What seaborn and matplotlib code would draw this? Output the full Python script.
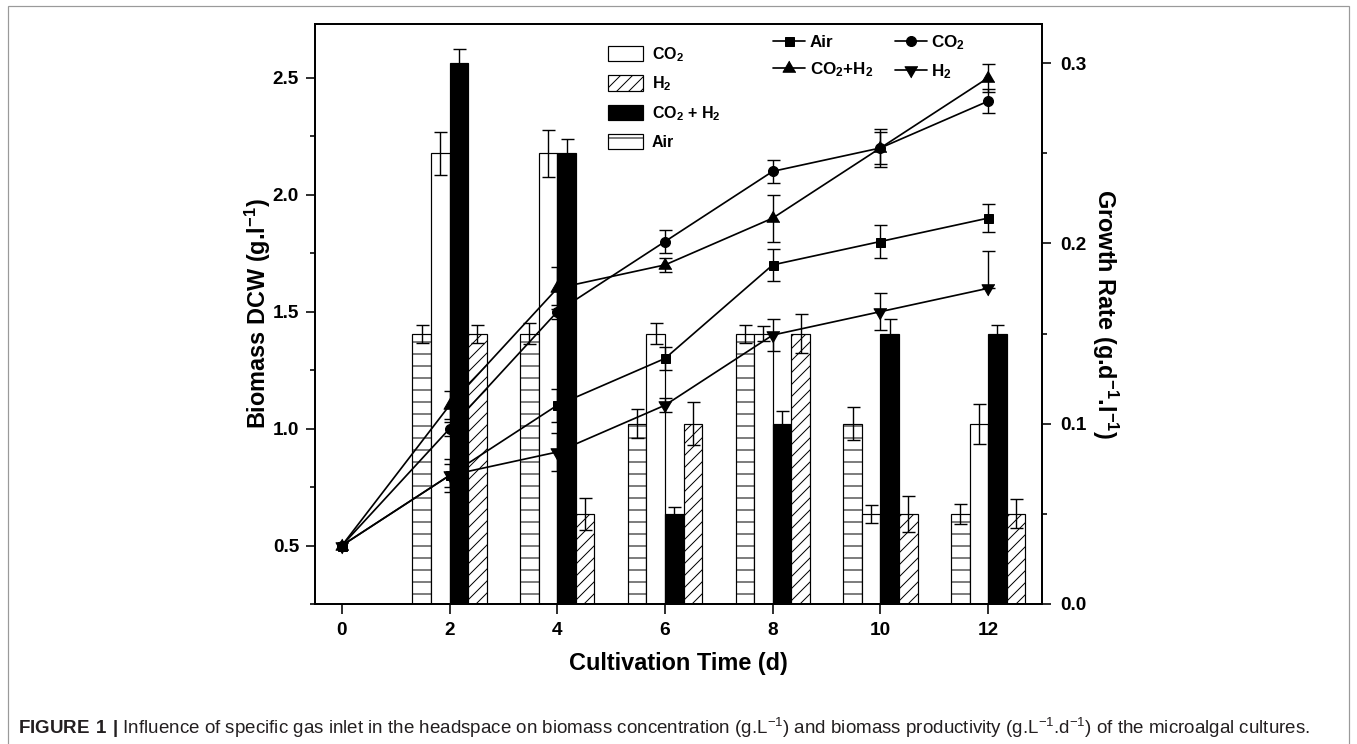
import matplotlib
matplotlib.use("Agg")
import matplotlib.pyplot as plt
import pandas as pd
import seaborn as sns
from matplotlib.lines import Line2D
from matplotlib.patches import Patch, Rectangle
from matplotlib.ticker import MultipleLocator, FormatStrFormatter

# ---- data -----------------------------------------------------------------
days_line = [0, 2, 4, 6, 8, 10, 12]
days_bar = [2, 4, 6, 8, 10, 12]
gases = ["Air", "CO2", "CO2+H2", "H2"]

# biomass dry cell weight (g/L)
biomass_air = [0.5, 0.8, 1.1, 1.3, 1.7, 1.8, 1.9]
biomass_co2 = [0.5, 1.0, 1.5, 1.8, 2.1, 2.2, 2.4]
biomass_co2_h2 = [0.5, 1.1, 1.6, 1.7, 1.9, 2.2, 2.5]
biomass_h2 = [0.5, 0.8, 0.9, 1.1, 1.4, 1.5, 1.6]

biomass_air_err = [0.0, 0.07, 0.07, 0.05, 0.07, 0.07, 0.06]
biomass_co2_err = [0.0, 0.03, 0.03, 0.05, 0.05, 0.08, 0.05]
biomass_co2_h2_err = [0.0, 0.06, 0.09, 0.03, 0.10, 0.07, 0.06]
biomass_h2_err_low = [0.0, 0.05, 0.08, 0.03, 0.07, 0.08, 0.0]
biomass_h2_err_high = [0.0, 0.05, 0.08, 0.03, 0.07, 0.08, 0.16]

# growth rate (g/d/L)
rate_air = [0.15, 0.15, 0.10, 0.15, 0.10, 0.05]
rate_co2 = [0.25, 0.25, 0.15, 0.15, 0.05, 0.10]
rate_co2_h2 = [0.30, 0.25, 0.05, 0.10, 0.15, 0.15]
rate_h2 = [0.15, 0.05, 0.10, 0.15, 0.05, 0.05]

rate_air_err = [0.005, 0.006, 0.008, 0.005, 0.009, 0.0055]
rate_co2_err = [0.012, 0.013, 0.006, 0.004, 0.005, 0.011]
rate_co2_h2_err = [0.008, 0.008, 0.004, 0.007, 0.008, 0.005]
rate_h2_err = [0.005, 0.009, 0.012, 0.011, 0.010, 0.008]

x_ticks = [0, 2, 4, 6, 8, 10, 12]

bar_labels = {"CO2": r"CO$_2$", "H2": r"H$_2$", "CO2+H2": r"CO$_2$ + H$_2$", "Air": "Air"}
line_labels = {"Air": "Air", "CO2": r"CO$_2$", "CO2+H2": r"CO$_2$+H$_2$", "H2": r"H$_2$"}

caption = (r"$\mathbf{FIGURE\ 1\ |}$ Influence of specific gas inlet in the headspace on biomass "
           r"concentration (g.L$^{-1}$) and biomass productivity (g.L$^{-1}$.d$^{-1}$) "
           r"of the microalgal cultures.")

# ---- styles --------------------------------------------------------------------
tri_up = [(0.0, 1.0), (-0.866, -0.5), (0.866, -0.5)]
tri_down = [(0.0, -1.0), (-0.866, 0.5), (0.866, 0.5)]
markers = {"Air": "s", "CO2": "o", "CO2+H2": tri_up, "H2": tri_down}
marker_sizes = {"Air": 9, "CO2": 10, "CO2+H2": 15, "H2": 15}
bar_faces = {"Air": "white", "CO2": "white", "CO2+H2": "black", "H2": "white"}
bar_hatches = {"Air": "-", "CO2": "", "CO2+H2": "", "H2": "//"}

# ---- tidy frames -------------------------------------------------------------
biomass = {"Air": biomass_air, "CO2": biomass_co2, "CO2+H2": biomass_co2_h2, "H2": biomass_h2}
rates = {"Air": rate_air, "CO2": rate_co2, "CO2+H2": rate_co2_h2, "H2": rate_h2}
rate_errs = {"Air": rate_air_err, "CO2": rate_co2_err, "CO2+H2": rate_co2_h2_err, "H2": rate_h2_err}
biomass_errs = {
    "Air": (biomass_air_err, biomass_air_err),
    "CO2": (biomass_co2_err, biomass_co2_err),
    "CO2+H2": (biomass_co2_h2_err, biomass_co2_h2_err),
    "H2": (biomass_h2_err_low, biomass_h2_err_high),
}

bar_df = pd.DataFrame(
    [(d, g, v) for g in gases for d, v in zip(days_bar, rates[g])],
    columns=["day", "gas", "rate"],
)

# ---- theme -------------------------------------------------------------------
sns.set_theme(style="ticks")
plt.rcParams.update({
    "font.family": ["Liberation Sans", "DejaVu Sans"],
    "font.weight": "bold",
    "axes.labelweight": "bold",
    "mathtext.fontset": "custom",
    "mathtext.rm": "Liberation Sans",
    "mathtext.bf": "Liberation Sans:bold",
    "mathtext.default": "regular",
    "hatch.linewidth": 1.0,
    "axes.linewidth": 1.8,
    "axes.edgecolor": "black",
    "xtick.color": "black",
    "ytick.color": "black",
    "text.color": "black",
    "axes.labelcolor": "black",
})

W, H = 1357, 744
fig = plt.figure(figsize=(W / 72, H / 72), dpi=72)
fig.patch.set_facecolor("white")
ax = fig.add_axes([315 / W, (H - 604) / H, (1042 - 315) / W, (604 - 24) / H])
ax_r = ax.twinx()

# ---- growth-rate bars (right axis) ---------------------------------------------
sns.barplot(
    data=bar_df, x="day", y="rate", hue="gas", hue_order=gases,
    palette=bar_faces, saturation=1, native_scale=True, width=0.69,
    errorbar=None, edgecolor="black", linewidth=1.2, legend=False, ax=ax_r,
)
for gas, cont in zip(gases, ax_r.containers):
    xs, hs = [], []
    for bar in cont:
        bar.set_hatch(bar_hatches[gas])
        bar.set_edgecolor("black")
        xs.append(bar.get_x() + bar.get_width() / 2)
        hs.append(bar.get_height())
    ax_r.errorbar(xs, hs, yerr=rate_errs[gas], fmt="none", ecolor="black",
                  elinewidth=1.4, capsize=6.5, capthick=1.4)

# ---- biomass lines (left axis) ---------------------------------------------------
for gas in gases:
    df = pd.DataFrame({"day": days_line, "biomass": biomass[gas]})
    sns.lineplot(
        data=df, x="day", y="biomass", color="black", marker=markers[gas],
        markersize=marker_sizes[gas], markeredgecolor="black", markeredgewidth=1.0,
        linewidth=1.7, errorbar=None, legend=False, ax=ax,
    )
    lo, hi = biomass_errs[gas]
    ax.errorbar(days_line[1:], biomass[gas][1:], yerr=[lo[1:], hi[1:]], fmt="none",
                ecolor="black", elinewidth=1.4, capsize=6.5, capthick=1.4)

ax.set_zorder(ax_r.get_zorder() + 1)
ax.patch.set_visible(False)

# ---- axes ----------------------------------------------------------------------
ax.set_xlim(-0.5, 13.0)
ax.set_ylim(0.25, 2.73)
ax_r.set_ylim(0.0, 0.3217)
ax.set_xticks(x_ticks)
ax.yaxis.set_major_locator(MultipleLocator(0.5))
ax.yaxis.set_minor_locator(MultipleLocator(0.25))
ax.yaxis.set_major_formatter(FormatStrFormatter("%.1f"))
ax_r.yaxis.set_major_locator(MultipleLocator(0.1))
ax_r.yaxis.set_minor_locator(MultipleLocator(0.05))
ax_r.yaxis.set_major_formatter(FormatStrFormatter("%.1f"))
for a in (ax, ax_r):
    a.tick_params(which="major", direction="out", length=9, width=1.6, labelsize=19, pad=7)
    a.tick_params(which="minor", direction="out", length=5, width=1.6)
    for s in a.spines.values():
        s.set_linewidth(1.8)
        s.set_color("black")
ax.tick_params(axis="x", which="major", length=10, pad=8)
ax.tick_params(axis="x", which="minor", bottom=False)
ax_r.tick_params(axis="y", which="major", pad=9)

ax.set_xlabel("Cultivation Time (d)", fontsize=23.5, fontweight="bold")
ax.set_ylabel(r"Biomass DCW (g.l$^{-1}$)", fontsize=23.5, fontweight="bold", va="center")
ax_r.set_ylabel(r"Growth Rate (g.d$^{-1}$.l$^{-1}$)", fontsize=23.5, fontweight="bold",
                rotation=270, va="center")
ax.xaxis.set_label_coords(0.5, -0.083)
ax.yaxis.set_label_coords(-0.078, 0.5)
ax_r.yaxis.set_label_coords(1.087, 0.5)

# ---- legends -------------------------------------------------------------------
bar_order = ["CO2", "H2", "CO2+H2", "Air"]
bar_handles = [Patch(facecolor=bar_faces[g], edgecolor="black", hatch=bar_hatches[g],
                     linewidth=1.2, label=bar_labels[g]) for g in bar_order]
leg1 = ax.legend(handles=bar_handles, loc="upper left",
                 bbox_to_anchor=(608 / W, (H - 45) / H), bbox_transform=fig.transFigure,
                 frameon=False, fontsize=16, handlelength=2.2, handleheight=1.1,
                 labelspacing=0.68, handletextpad=0.55, borderpad=0, borderaxespad=0)
ax.add_artist(leg1)

line_order = ["Air", "CO2+H2", "CO2", "H2"]
line_handles = [Line2D([], [], color="black", marker=markers[g], markersize=marker_sizes[g],
                       markeredgecolor="black", linewidth=1.7, label=line_labels[g])
                for g in line_order]
ax.legend(handles=line_handles, loc="upper left", ncol=2,
          bbox_to_anchor=(773 / W, (H - 33) / H), bbox_transform=fig.transFigure,
          frameon=False, fontsize=17, handlelength=1.9, handletextpad=0.25,
          columnspacing=1.3, labelspacing=0.6, borderpad=0, borderaxespad=0)

# ---- frame and caption -------------------------------------------------------------
fig.patches.append(Rectangle((8 / W, -0.01), (1349 - 8) / W, (H - 6) / H + 0.01,
                             transform=fig.transFigure, fill=False,
                             edgecolor="#9a9a9a", linewidth=1.2))
fig.text(18 / W, (H - 728) / H, caption, fontsize=18.8, fontweight="normal",
         color="#231f20", va="center", ha="left")

fig.savefig("out.png", dpi=72, facecolor="white")
